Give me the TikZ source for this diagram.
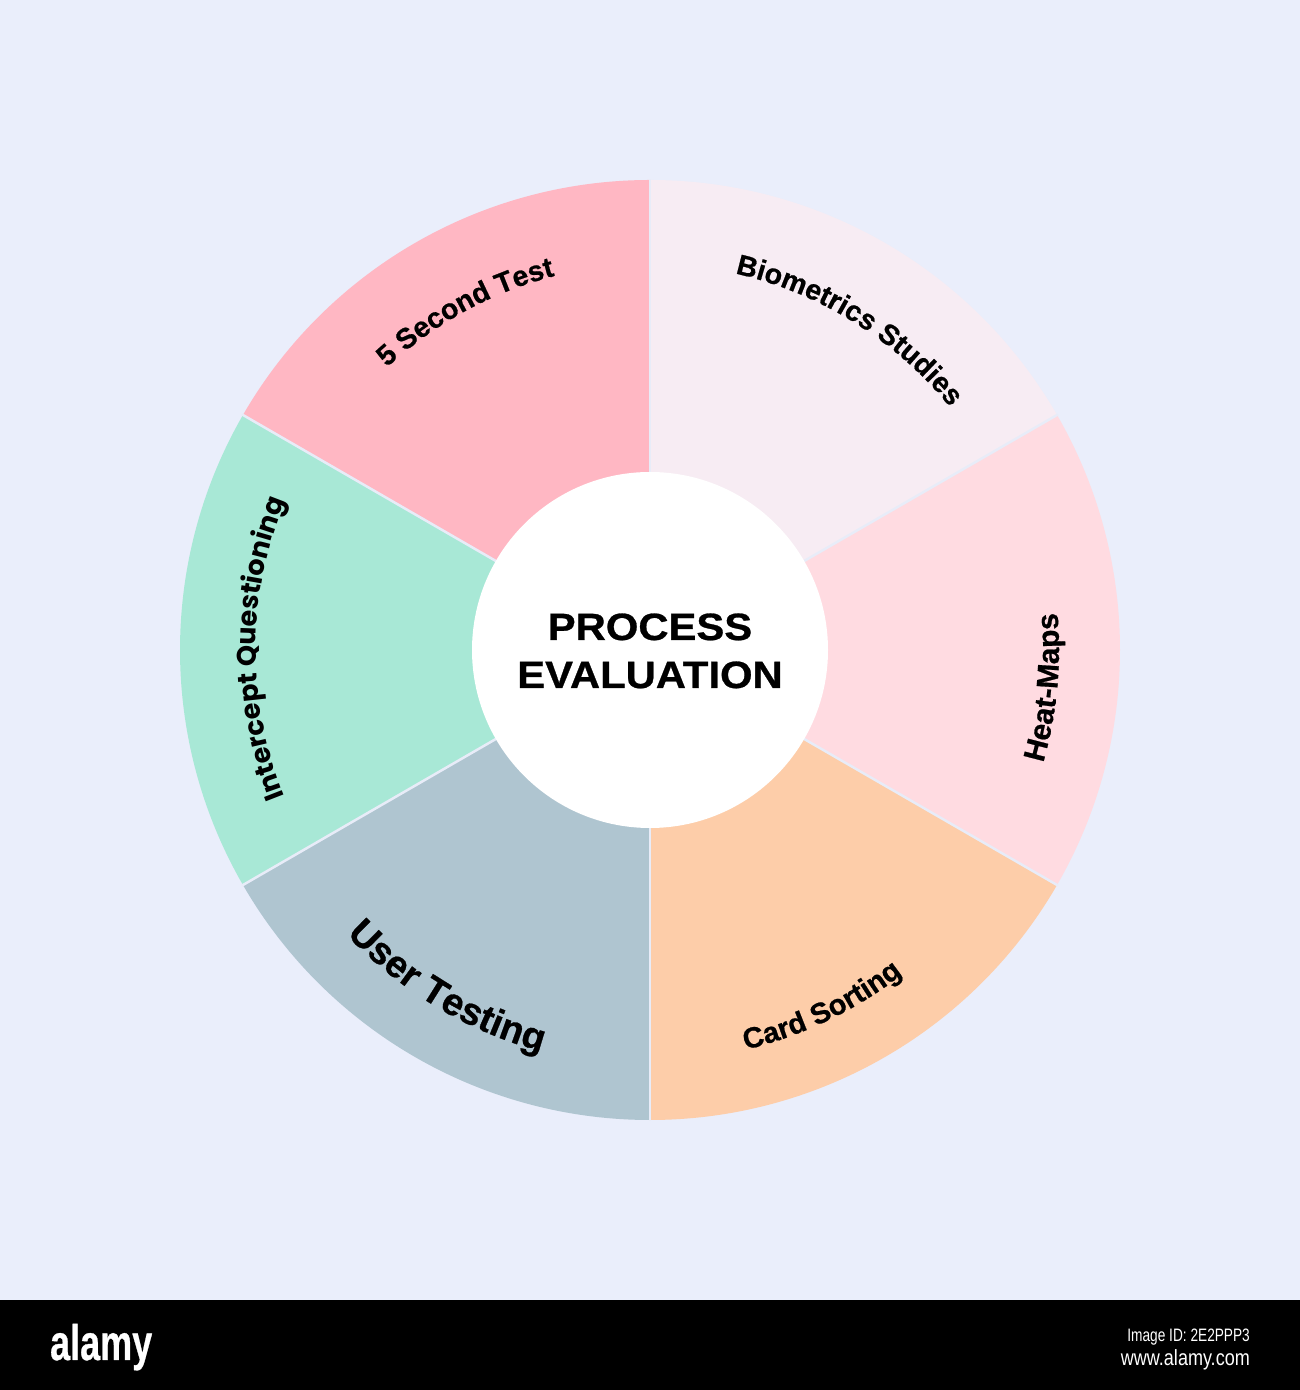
\documentclass[tikz,border=0pt]{standalone}
\usepackage{fontspec}
\setmainfont{Liberation Sans}
\newfontfamily\heavyfont{Liberation Sans}[BoldFeatures={FakeBold=0.7}]
\newfontfamily\popfont{Poppins}
\usetikzlibrary{decorations.text}
\definecolor{bgc}{HTML}{EAEEFB}
\definecolor{cfive}{HTML}{FFB7C3}
\definecolor{cbio}{HTML}{F7ECF3}
\definecolor{cheat}{HTML}{FFDBE1}
\definecolor{ccard}{HTML}{FDCDA9}
\definecolor{cuser}{HTML}{AFC5D0}
\definecolor{cint}{HTML}{A8E8D6}
\definecolor{sepc}{HTML}{E8ECF8}
\tikzset{
  sepline/.style={draw=sepc, line width=2.5pt},
  arclabel/.style={decorate, decoration={text along path, text align=center, text={#1}}},
  bartext/.style={text=white, inner sep=0pt}
}
\begin{document}
\begin{tikzpicture}[x=1pt,y=1pt]
\useasboundingbox (0,0) rectangle (1300,1390);
\fill[bgc] (0,0) rectangle (1300,1390);
\fill[black] (0,0) rectangle (1300,90);
\begin{scope}[shift={(650,740)}]
  \fill[cbio]  (0,0) -- (30:470)  arc[start angle=30,  end angle=90,  radius=470] -- cycle;
  \fill[cfive] (0,0) -- (90:470)  arc[start angle=90,  end angle=150, radius=470] -- cycle;
  \fill[cint]  (0,0) -- (150:470) arc[start angle=150, end angle=210, radius=470] -- cycle;
  \fill[cuser] (0,0) -- (210:470) arc[start angle=210, end angle=270, radius=470] -- cycle;
  \fill[ccard] (0,0) -- (270:470) arc[start angle=270, end angle=330, radius=470] -- cycle;
  \fill[cheat] (0,0) -- (330:470) arc[start angle=330, end angle=390, radius=470] -- cycle;
  \foreach \a in {30,90,150,210,270,330} \draw[sepline] (\a:170) -- (\a:471);
  \node[circle, fill=white, minimum size=356pt, inner sep=0pt] (hub) at (0,0) {};
  \node[anchor=base, inner sep=0pt, xscale=1.1, font=\heavyfont\bfseries\fontsize{38}{38}\selectfont] (title1) at (0,10) {PROCESS};
  \node[anchor=base, inner sep=0pt, xscale=1.1, font=\heavyfont\bfseries\fontsize{38}{38}\selectfont] (title2) at (0,-38) {EVALUATION};
  % clockwise labels (letters outward)
  \path[arclabel={|\heavyfont\bfseries\fontsize{28.5}{30}\selectfont|5 Second Test}]
    (158.6:386) arc[start angle=158.6, end angle=78.6, radius=386];
  \path[arclabel={|\heavyfont\bfseries\fontsize{28.5}{30}\selectfont|Biometrics Studies}]
    (98.1:386) arc[start angle=98.1, end angle=18.1, radius=386];
  \path[arclabel={|\popfont\bfseries\fontsize{27}{30}\selectfont|Intercept Questioning}]
    (219.8:394) arc[start angle=219.8, end angle=139.8, radius=394];
  % counter-clockwise labels (letters inward)
  \path[arclabel={|\heavyfont\bfseries\fontsize{30}{32}\selectfont|Heat-Maps}]
    (-45.4:409) arc[start angle=-45.4, end angle=34.6, radius=409];
  \path[arclabel={|\heavyfont\bfseries\fontsize{29}{32}\selectfont|Card Sorting}]
    (-104.3:411) arc[start angle=-104.3, end angle=-24.3, radius=411];
  \path[arclabel={|\heavyfont\bfseries\fontsize{38}{40}\selectfont|User Testing}]
    (199:416) arc[start angle=199, end angle=279, radius=416];
\end{scope}
\node[bartext, anchor=base west, xscale=0.72, font=\heavyfont\bfseries\fontsize{50}{50}\selectfont] (logo) at (50,30) {alamy};
\node[bartext, anchor=base east, xscale=0.76, font=\fontsize{18}{18}\selectfont] (imgid) at (1250,48) {Image ID: 2E2PPP3};
\node[bartext, anchor=base east, xscale=0.82, font=\fontsize{22}{22}\selectfont] (url) at (1250,24) {www.alamy.com};
\end{tikzpicture}
\end{document}
